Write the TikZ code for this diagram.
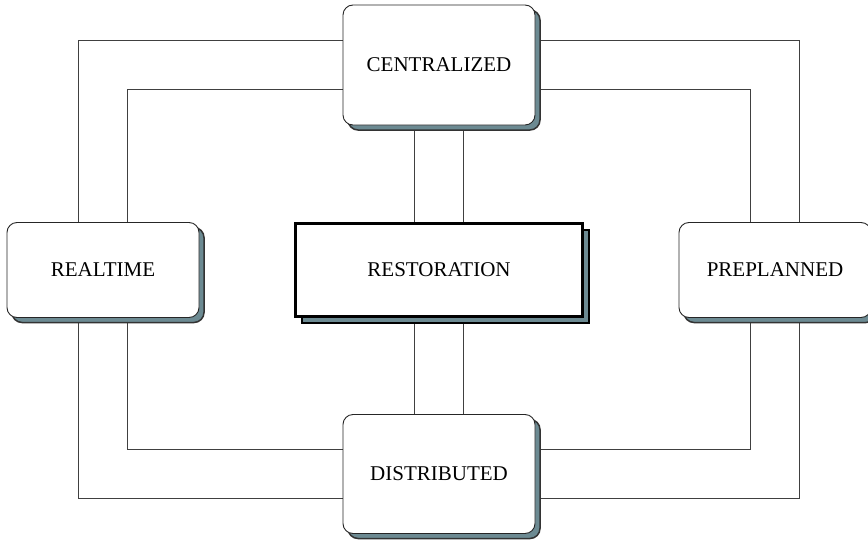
\documentclass[tikz,border=0pt]{standalone}
\usepackage{fontspec}
\setmainfont{Liberation Serif}
\usetikzlibrary{shadows,backgrounds}
\definecolor{shadowslate}{RGB}{108,138,146}
\begin{document}
\begin{tikzpicture}[x=1pt, y=-1pt]
\tikzset{rsplan/.style={shape=rectangle, rounded corners=10pt, draw=black!85, line width=0.9pt, fill=white,
  minimum width=192pt, font=\fontsize{21}{25}\selectfont,
  drop shadow={shadow xshift=5pt, shadow yshift=-5pt, opacity=1, fill=shadowslate, draw=black!80, line width=1.5pt}}}
\tikzset{rsmain/.style={shape=rectangle, draw=black, line width=3pt, fill=white,
  minimum width=287pt, minimum height=93pt, font=\fontsize{21}{25}\selectfont,
  drop shadow={shadow xshift=6pt, shadow yshift=-6pt, opacity=1, fill=shadowslate, draw=black, line width=2pt}}}
\tikzset{rsband/.style={draw=black!75, line width=1pt, double=white, double distance=48pt}}
\useasboundingbox (0,0) rectangle (868,541);
\clip (0,0) rectangle (868,541);
% approaches
\node (central)  [rsplan, minimum height=120pt] at (439, 65) {CENTRALIZED};
\node (realtime) [rsplan, minimum height=95pt]  at (103,270) {REALTIME};
\node (preplan)  [rsplan, minimum height=95pt]  at (775,270) {PREPLANNED};
\node (distrib)  [rsplan, minimum height=119pt] at (439,474) {DISTRIBUTED};
% centre
\node (restore)  [rsmain] at (439,270) {RESTORATION};
% bands
\begin{scope}[on background layer]
\draw[rsband] (realtime.center |- central.center) rectangle (preplan.center |- distrib.center);
\draw[rsband] (central) -- (restore);
\draw[rsband] (restore) -- (distrib);
\end{scope}
\end{tikzpicture}
\end{document}
